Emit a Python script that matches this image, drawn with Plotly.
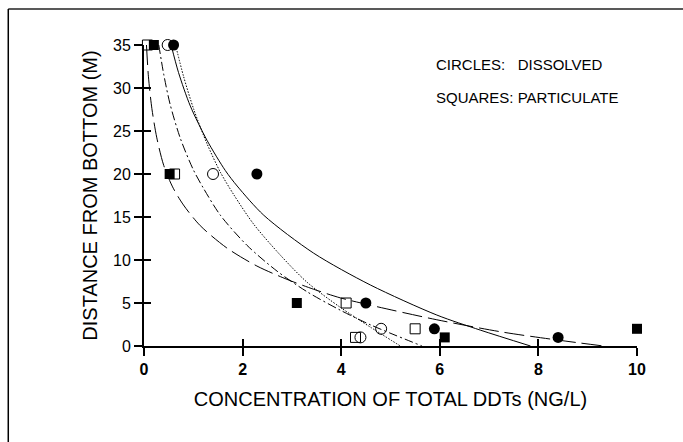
import plotly.graph_objects as go

# ---- data ----
# particulate (squares)
part_filled_x = [0.2, 0.52, 3.1, 6.1, 10.0]
part_filled_y = [35, 20, 5, 1, 2]
part_open_x = [0.07, 0.62, 4.1, 5.5, 4.29]
part_open_y = [35, 20, 5, 2, 1]
# dissolved (circles)
diss_filled_x = [0.6, 2.29, 4.5, 5.89, 8.4]
diss_filled_y = [35, 20, 5, 2, 1]
diss_open_x = [0.48, 1.4, 4.81, 4.39]
diss_open_y = [35, 20, 2, 1]

# fitted curves
solid_x = [0.55, 0.70, 0.94, 1.28, 1.65, 1.89, 2.43, 3.44, 4.59, 5.94, 6.82, 7.84]
solid_y = [35, 31.8, 27.9, 23.9, 20.4, 18.6, 15.2, 10.8, 7.1, 3.6, 1.85, 0]
dotted_x = [0.64, 0.80, 1.01, 1.28, 1.55, 1.82, 2.22, 2.76, 3.31, 3.98, 4.59, 5.2]
dotted_y = [35, 31.4, 27.5, 23.5, 20.2, 17.6, 14.2, 10.6, 7.4, 4.5, 2.2, 0]
dashdot_x = [0.30, 0.40, 0.53, 0.74, 1.0, 1.2, 1.55, 2.09, 2.70, 3.31, 3.98, 4.59, 5.64]
dashdot_y = [35, 31.6, 28.1, 24.1, 20.5, 18.4, 15.2, 11.7, 8.7, 6.3, 4.17, 2.47, 0]
longdash_x = [0.05, 0.09, 0.16, 0.26, 0.40, 0.58, 0.80, 1.14, 1.68, 2.29, 2.90, 3.44, 3.98, 4.59, 5.94, 7.29, 8.38, 9.32]
longdash_y = [35, 31.3, 27.6, 24.2, 21.0, 18.5, 16.4, 14.0, 11.4, 9.3, 7.75, 6.6, 5.6, 4.75, 3.05, 1.6, 0.7, 0]

x_ticks = [0, 2, 4, 6, 8, 10]
y_ticks = [0, 5, 10, 15, 20, 25, 30, 35]

FONT = "Arial, Liberation Sans, sans-serif"

fig = go.Figure()

curve_specs = [
    (solid_x, solid_y, "solid"),
    (dotted_x, dotted_y, "1.5px,1.5px"),
    (dashdot_x, dashdot_y, "9px,3px,2px,3px"),
    (longdash_x, longdash_y, "20px,6px"),
]
for cx, cy, dash in curve_specs:
    fig.add_trace(go.Scatter(x=cx, y=cy, mode="lines",
                             line=dict(color="black", width=1, dash=dash, shape="spline", smoothing=0.8),
                             showlegend=False, hoverinfo="skip", cliponaxis=False))

fig.add_trace(go.Scatter(x=part_open_x, y=part_open_y, mode="markers",
                         marker=dict(symbol="square-open", size=10, color="black", line=dict(width=1)),
                         showlegend=False, cliponaxis=False))
fig.add_trace(go.Scatter(x=part_filled_x, y=part_filled_y, mode="markers",
                         marker=dict(symbol="square", size=10, color="black"),
                         showlegend=False, cliponaxis=False))
fig.add_trace(go.Scatter(x=diss_open_x, y=diss_open_y, mode="markers",
                         marker=dict(symbol="circle-open", size=11, color="black", line=dict(width=1)),
                         showlegend=False, cliponaxis=False))
fig.add_trace(go.Scatter(x=diss_filled_x, y=diss_filled_y, mode="markers",
                         marker=dict(symbol="circle", size=11, color="black"),
                         showlegend=False, cliponaxis=False))

# dummy trace for overlay axes (inside ticks -> crossing ticks)
fig.add_trace(go.Scatter(x=[None], y=[None], xaxis="x2", yaxis="y2", mode="markers",
                         showlegend=False, hoverinfo="skip"))

axis_common = dict(showgrid=False, zeroline=False)

fig.update_layout(
    width=683, height=442,
    margin=dict(l=144, r=46, t=45, b=96),
    paper_bgcolor="white", plot_bgcolor="white",
    font=dict(family=FONT, color="black"),
    xaxis=dict(range=[0, 10], tickvals=x_ticks, ticktext=[str(v) for v in x_ticks],
               showline=True, linecolor="black", linewidth=2,
               ticks="outside", ticklen=8, tickwidth=1.5, tickcolor="black",
               tickfont=dict(size=16, family=FONT, weight="bold"),
               title=dict(text="CONCENTRATION OF TOTAL DDTs (NG/L)", font=dict(size=20, family=FONT), standoff=15),
               **axis_common),
    yaxis=dict(range=[0, 35], tickvals=y_ticks, ticktext=[str(v) for v in y_ticks],
               showline=True, linecolor="black", linewidth=2,
               ticks="outside", ticklen=8, tickwidth=1.5, tickcolor="black",
               tickfont=dict(size=16, family=FONT),
               title=dict(text="DISTANCE FROM BOTTOM (M)", font=dict(size=20, family=FONT), standoff=10),
               **axis_common),
    xaxis2=dict(range=[0, 10], tickvals=x_ticks, overlaying="x", anchor="y2", side="bottom",
                showline=False, ticks="inside", ticklen=7, tickwidth=1.5, tickcolor="black",
                showticklabels=False, **axis_common),
    yaxis2=dict(range=[0, 35], tickvals=y_ticks, overlaying="y", anchor="x2", side="left",
                showline=False, ticks="inside", ticklen=7, tickwidth=1.5, tickcolor="black",
                showticklabels=False, **axis_common),
)

# legend-like text
fig.add_annotation(text="CIRCLES:\u00a0\u00a0\u00a0DISSOLVED", xref="paper", yref="paper",
                   x=0.589, y=0.934, xanchor="left", yanchor="middle", showarrow=False,
                   font=dict(size=15, family=FONT, color="black"))
fig.add_annotation(text="SQUARES: PARTICULATE", xref="paper", yref="paper",
                   x=0.589, y=0.827, xanchor="left", yanchor="middle", showarrow=False,
                   font=dict(size=15, family=FONT, color="black"))

# outer frame (top and left edges)
fig.add_shape(type="line", xref="paper", yref="paper", x0=-0.2753, x1=1.1, y0=1.1196, y1=1.1196,
              line=dict(color="#222222", width=1.5))
fig.add_shape(type="line", xref="paper", yref="paper", x0=-0.2753, x1=-0.2753, y0=1.1196, y1=-0.33,
              line=dict(color="black", width=1.5))

fig.write_html("out.html")
